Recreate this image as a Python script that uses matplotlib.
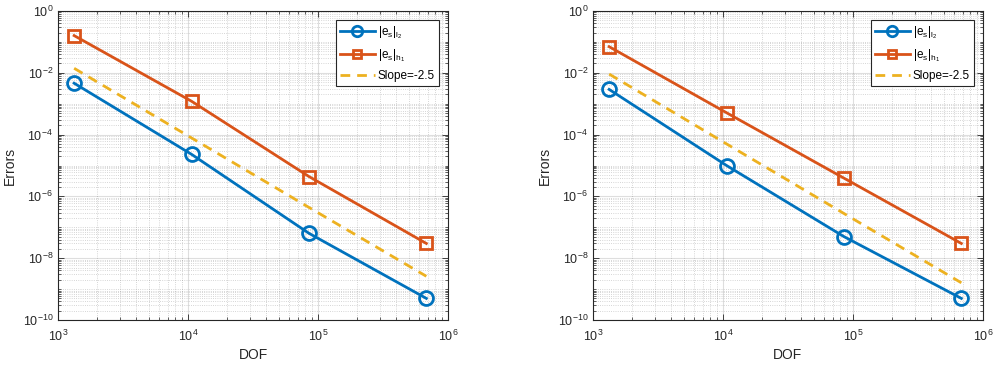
import matplotlib
matplotlib.use("Agg")
import matplotlib.pyplot as plt
from matplotlib.ticker import LogLocator, FixedLocator, NullFormatter

plt.rcParams['font.family'] = ['Liberation Sans', 'DejaVu Sans']
plt.rcParams['mathtext.fontset'] = 'custom'
plt.rcParams['mathtext.rm'] = 'Liberation Sans'
plt.rcParams['mathtext.it'] = 'Liberation Sans'
plt.rcParams['mathtext.default'] = 'regular'

dof = [1331, 10648, 85184, 681472]

left_l2 = [4.6e-3, 2.3e-5, 6.4e-8, 5.0e-10]
left_h1 = [0.16, 1.2e-3, 4.4e-6, 3.0e-8]
left_slope = [1.4e-2, 7.8e-5, 4.4e-7, 2.6e-9]

right_l2 = [2.9e-3, 1.0e-5, 5.0e-8, 5.0e-10]
right_h1 = [0.07, 5.1e-4, 3.9e-6, 3.0e-8]
right_slope = [9.1e-3, 5.0e-5, 2.8e-7, 1.6e-9]

labels = [r'$|e_s|_{l_2}$', r'$|e_s|_{h_1}$', 'Slope=-2.5']
xlabel = 'DOF'
ylabel = 'Errors'

c_blue = '#0072BD'
c_orange = '#D95319'
c_yellow = '#EDB120'
ax_col = (0.15, 0.15, 0.15)

fig = plt.figure(figsize=(9.97, 3.68), dpi=100)
W, H = 997, 368
positions = [(58, 11, 390, 309), (593, 11, 390, 309)]
datasets = [(left_l2, left_h1, left_slope), (right_l2, right_h1, right_slope)]

for (x0, y0, w, h), (l2, h1, sl) in zip(positions, datasets):
    ax = fig.add_axes([x0 / W, (H - y0 - h) / H, w / W, h / H])
    ax.set_xscale('log')
    ax.set_yscale('log')
    ax.plot(dof, l2, '-o', color=c_blue, lw=2, ms=10, mfc='none', mew=2, label=labels[0], zorder=3)
    ax.plot(dof, h1, '-s', color=c_orange, lw=2, ms=8, mfc='none', mew=2, label=labels[1], zorder=3)
    ax.plot(dof, sl, '--', color=c_yellow, lw=2, dashes=(3.5, 2.5), label=labels[2], zorder=3)
    ax.set_xlim(1e3, 1e6)
    ax.set_ylim(1e-10, 1e0)
    ax.xaxis.set_major_locator(FixedLocator([1e3, 1e4, 1e5, 1e6]))
    ax.yaxis.set_major_locator(FixedLocator([1e-10, 1e-8, 1e-6, 1e-4, 1e-2, 1e0]))
    ax.set_xticklabels([r'$10^{3}$', r'$10^{4}$', r'$10^{5}$', r'$10^{6}$'])
    ax.set_yticklabels([r'$10^{-10}$', r'$10^{-8}$', r'$10^{-6}$', r'$10^{-4}$', r'$10^{-2}$', r'$10^{0}$'])
    ax.xaxis.set_minor_locator(LogLocator(base=10, subs=range(2, 10), numticks=20))
    ymin = []
    for e in range(-10, 0):
        for s in range(1, 10):
            v = s * 10.0 ** e
            if s == 1 and e % 2 == 0:
                continue
            ymin.append(v)
    ax.yaxis.set_minor_locator(FixedLocator(ymin))
    ax.xaxis.set_minor_formatter(NullFormatter())
    ax.yaxis.set_minor_formatter(NullFormatter())
    ax.grid(True, which='major', color=ax_col, alpha=0.15, lw=0.8, ls='-')
    ax.grid(True, which='minor', color=ax_col, alpha=0.25, lw=0.6, ls=':')
    ax.set_axisbelow(True)
    ax.tick_params(which='both', direction='in', top=True, right=True, colors=ax_col, labelsize=9)
    ax.tick_params(which='major', length=4, width=0.6)
    ax.tick_params(which='minor', length=2, width=0.5)
    for sp in ax.spines.values():
        sp.set_color(ax_col)
        sp.set_linewidth(0.8)
    ax.set_xlabel(xlabel, fontsize=10, color=ax_col, labelpad=3)
    ax.set_ylabel(ylabel, fontsize=10, color=ax_col)
    ax.tick_params(axis='x', pad=6)
    leg = ax.legend(loc='upper right', fontsize=8.5, fancybox=False, edgecolor=ax_col,
                    framealpha=1, handlelength=3.0, borderaxespad=0.8, markerscale=0.75,
                    labelspacing=0.55, handletextpad=0.25, borderpad=0.3)
    leg.get_frame().set_linewidth(0.8)

fig.savefig('out.png', dpi=100)
